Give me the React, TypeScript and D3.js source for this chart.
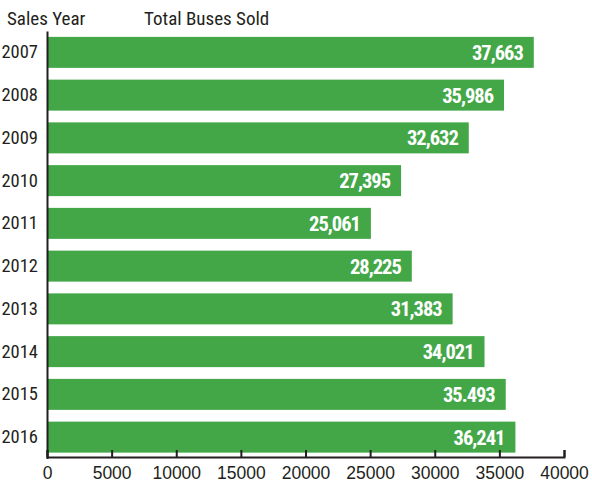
import * as d3 from "d3";
import { useEffect, useRef } from "react";

const years = ["2007", "2008", "2009", "2010", "2011", "2012", "2013", "2014", "2015", "2016"];
// bar lengths as drawn in the picture (2008 and 2014 bars are slightly shorter than their labels)
const sales = [37663, 35360, 32632, 27395, 25061, 28225, 31383, 33850, 35493, 36241];
const valueLabels = ["37,663", "35,986", "32,632", "27,395", "25,061", "28,225", "31,383", "34,021", "35.493", "36,241"];
const xTicks = [0, 5000, 10000, 15000, 20000, 25000, 30000, 35000, 40000];

const narrow = "'Roboto Condensed', 'Liberation Sans Narrow', 'DejaVu Sans', sans-serif";
const ink = "#231f20";

const App = () => {
  const ref = useRef<SVGSVGElement>(null);

  useEffect(() => {
    const svg = d3.select(ref.current);
    svg.selectAll("*").remove();

    const x = d3.scaleLinear().domain([0, 40000]).range([47, 564]);
    const y = d3.scaleBand().domain(years).range([31, 458.5]).paddingInner(0.275).paddingOuter(0.1375);

    const data = years.map((yr, i) => ({ yr, v: sales[i], label: valueLabels[i] }));

    // bars
    svg.append("g")
      .selectAll("rect")
      .data(data)
      .enter()
      .append("rect")
      .attr("x", x(0))
      .attr("y", d => y(d.yr)!)
      .attr("width", d => x(d.v) - x(0))
      .attr("height", y.bandwidth())
      .attr("fill", "#43a748");

    // value labels
    svg.append("g")
      .selectAll("text")
      .data(data)
      .enter()
      .append("text")
      .attr("x", d => x(d.v) - 11)
      .attr("y", d => y(d.yr)! + y.bandwidth() / 2)
      .attr("dy", "0.36em")
      .attr("text-anchor", "end")
      .attr("font-family", narrow)
      .style("font-stretch", "condensed")
      .style("letter-spacing", "-1px")
      .attr("font-weight", "bold")
      .attr("font-size", "20.5px")
      .attr("fill", "white")
      .text(d => d.label);

    // bottom axis, ticks pointing up
    const xAxis = svg.append("g")
      .attr("transform", "translate(0,457)")
      .call(d3.axisBottom(x).tickValues(xTicks).tickFormat(d3.format("d")).tickSize(-7).tickPadding(10));
    xAxis.selectAll("path, line").attr("stroke", ink).attr("stroke-width", 2);
    xAxis.selectAll("text")
      .attr("font-family", "'Liberation Sans', Arial, sans-serif")
      .attr("font-size", "17.5px")
      .attr("fill", ink);

    // left axis with year labels
    const yAxis = svg.append("g")
      .attr("transform", "translate(47,0)")
      .call(d3.axisLeft(y).tickSize(0).tickPadding(9));
    yAxis.select(".domain").attr("stroke", ink).attr("stroke-width", 2);
    yAxis.selectAll("text")
      .attr("font-family", narrow)
      .style("font-stretch", "condensed")
      .attr("font-size", "18.5px")
      .attr("fill", ink);

    // headers
    svg.append("text")
      .attr("x", 7)
      .attr("y", 25)
      .attr("font-family", narrow)
      .style("font-stretch", "condensed")
      .attr("font-size", "19px")
      .attr("fill", ink)
      .text("Sales Year");

    svg.append("text")
      .attr("x", 144)
      .attr("y", 25)
      .attr("font-family", narrow)
      .style("font-stretch", "condensed")
      .attr("font-size", "19px")
      .attr("fill", ink)
      .text("Total Buses Sold");
  }, []);

  return (
    <div style={{ position: "absolute", left: 0, top: 0 }}>
      <svg ref={ref} width={592} height={482} style={{ display: "block", background: "white" }} />
    </div>
  );
};

export default App;
